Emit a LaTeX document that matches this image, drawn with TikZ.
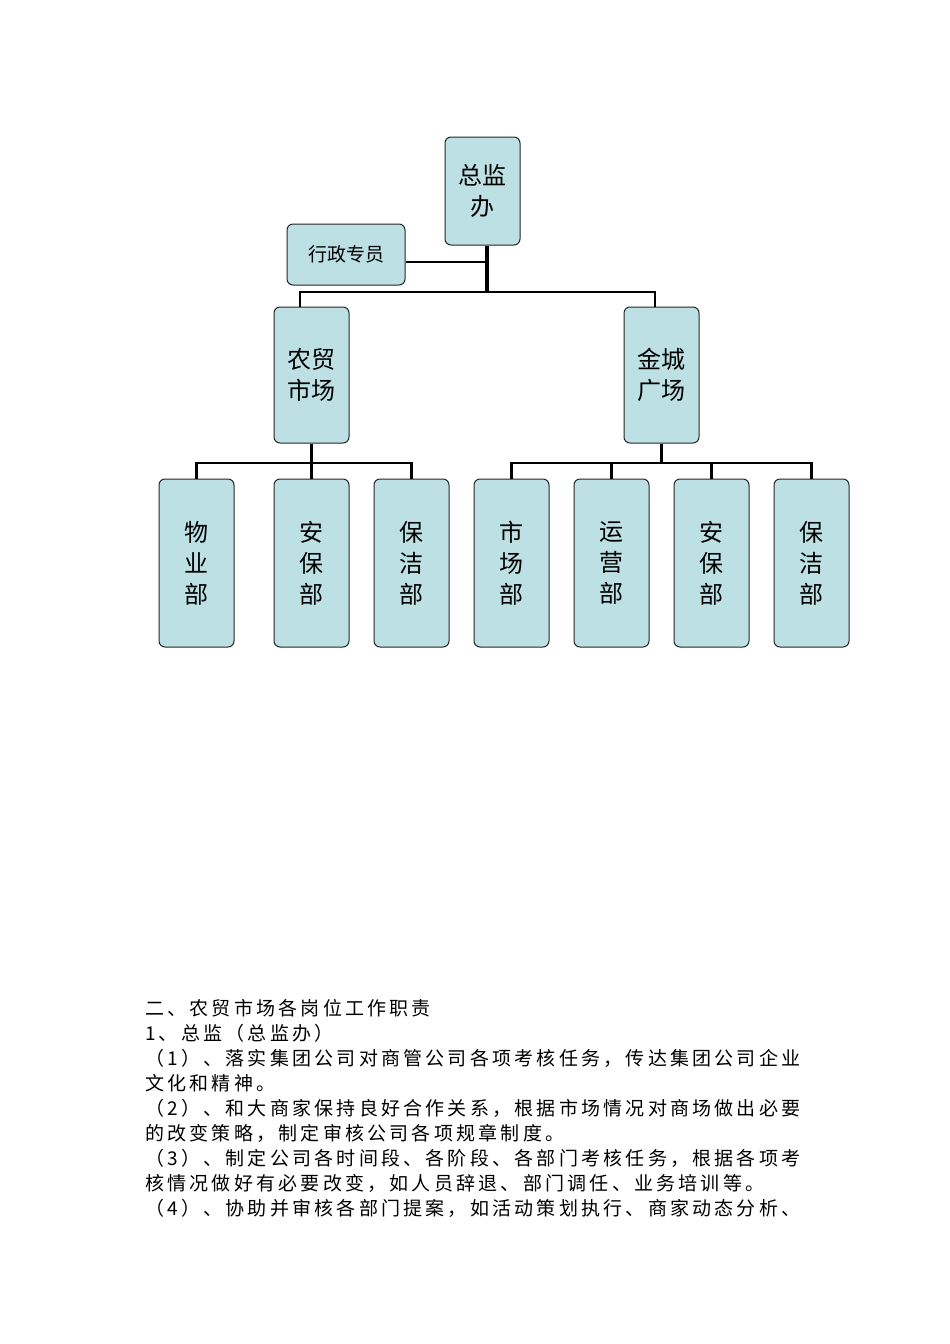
\documentclass[tikz,border=0pt]{standalone}
\usepackage{fontspec}
\newfontfamily\cjk{Noto Sans CJK SC}
\newfontfamily\cjkb[LetterSpace=17]{Noto Sans CJK SC}
\definecolor{boxfill}{HTML}{BCE0E3}
\begin{document}
\begin{tikzpicture}[x=1pt,y=-1pt,
  org/.style={draw=black!85,line width=1pt,fill=boxfill,rounded corners=6pt,inner sep=0pt,align=center,font=\cjk\fontsize{24}{31}\selectfont},
  link/.style={line width=2.5pt},
  para/.style={anchor=west,inner sep=0pt,font=\cjkb\fontsize{19}{22}\selectfont}]
\useasboundingbox (0,0) rectangle (950,1344);
\node[org,minimum width=75,minimum height=108] (zj) at (482.5,191) {总监\\办};
\node[org,minimum width=118,minimum height=61,font=\cjk\fontsize{19}{22}\selectfont] (xz) at (346,254.5) {行政专员};
\node[org,minimum width=75,minimum height=136] (nm) at (311.5,375) {农贸\\市场};
\node[org,minimum width=75,minimum height=136] (jc) at (661.5,375) {金城\\广场};
\foreach \n/\x/\t in {a/196.5/物\\业\\部, b/311.5/安\\保\\部, c/411.5/保\\洁\\部, d/511.5/市\\场\\部, e/611.5/运\\营\\部, f/711.5/安\\保\\部, g/811.5/保\\洁\\部}
  \node[org,minimum width=75,minimum height=168] (\n) at (\x,563) {\t};
\draw[line width=4pt] (zj.south -| 487,0) -- (487,293);
\draw[link] (xz.east |- 0,262) -- (487,262);
\draw[link] (nm.north -| 300,0) -- (300,292) -- (655,292) -- (jc.north -| 655,0);
\draw[link] (nm.south) -- (311.5,463);
\draw[link] (a.north) -- (196.5,463) -| (c.north);
\draw[link] (b.north) -- (311.5,463);
\draw[link] (jc.south) -- (661.5,463);
\draw[link] (d.north) -- (511.5,463) -| (g.north);
\draw[link] (e.north) -- (611.5,463);
\draw[link] (f.north) -- (711.5,463);
\node[para] (p1) at (145,1008) {二、农贸市场各岗位工作职责};
\node[para] (p2) at (145,1033) {1、总监（总监办）};
\node[para] (p3) at (145,1058) {（1）、落实集团公司对商管公司各项考核任务，传达集团公司企业};
\node[para] (p4) at (145,1083) {文化和精神。};
\node[para] (p5) at (145,1108) {（2）、和大商家保持良好合作关系，根据市场情况对商场做出必要};
\node[para] (p6) at (145,1133) {的改变策略，制定审核公司各项规章制度。};
\node[para] (p7) at (145,1158) {（3）、制定公司各时间段、各阶段、各部门考核任务，根据各项考};
\node[para] (p8) at (145,1183) {核情况做好有必要改变，如人员辞退、部门调任、业务培训等。};
\node[para] (p9) at (145,1208) {（4）、协助并审核各部门提案，如活动策划执行、商家动态分析、};
\end{tikzpicture}
\end{document}
